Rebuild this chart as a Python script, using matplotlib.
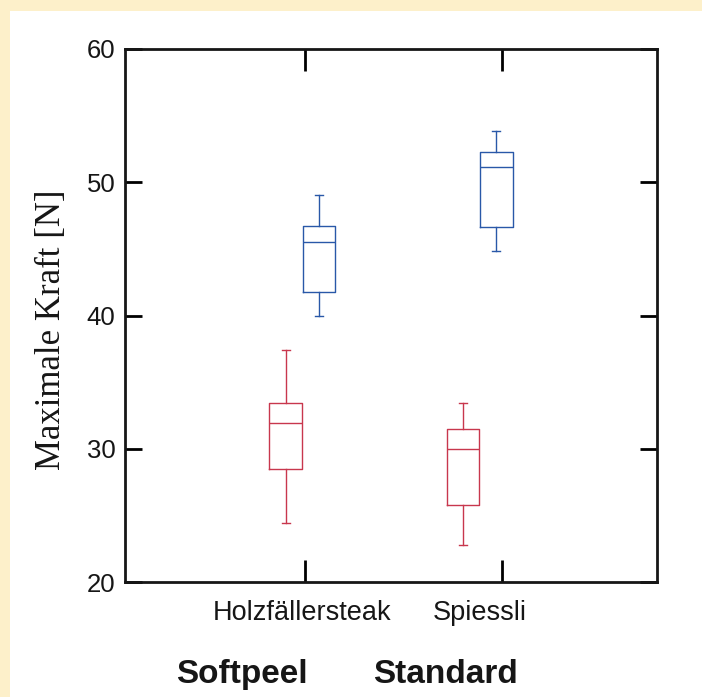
import matplotlib
matplotlib.use("Agg")
import matplotlib.pyplot as plt
from matplotlib.patches import Rectangle

# ---- data ----
categories = ["Holzfällersteak", "Spiessli"]
groups = ["Softpeel", "Standard"]
# five-number summaries: whisker low, Q1, median, Q3, whisker high
softpeel_red = [[24.45, 28.46, 31.93, 33.41, 37.39],
                [22.75, 25.80, 30.00, 31.46, 33.41]]
standard_blue = [[39.96, 41.76, 45.49, 46.74, 49.04],
                 [44.86, 46.66, 51.12, 52.27, 53.87]]
yticks = [20, 30, 40, 50, 60]

red = "#c8374d"
blue = "#2958a8"
ink = "#161616"

fig = plt.figure(figsize=(7.02, 6.97), dpi=100)
fig.patch.set_facecolor("#fdf0ca")
fig.patches.append(Rectangle((10 / 702, 0), 1, 1 - 11 / 697, transform=fig.transFigure,
                             facecolor="white", edgecolor="none", zorder=-5))

ax = fig.add_axes([125 / 702, 1 - 582 / 697, 532 / 702, 533 / 697])
ax.set_facecolor("white")


def stats(vals, label):
    lo, q1, med, q3, hi = vals
    return dict(whislo=lo, q1=q1, med=med, q3=q3, whishi=hi, fliers=[], label=label)


centers = [1, 2]
off = 0.094
width = 0.185
for s, col, d in [(softpeel_red, red, -off), (standard_blue, blue, off)]:
    bxp = [stats(v, c) for v, c in zip(s, categories)]
    props = dict(color=col, linewidth=1.0)
    ax.bxp(bxp, positions=[c + d for c in centers], widths=width, showfliers=False,
           boxprops=props, whiskerprops=props, capprops=props, medianprops=props,
           capwidths=0.045, manage_ticks=False)

ax.set_xlim(0, 3)
ax.set_ylim(20, 60)

# major ticks: labels only (centred on groups); minor ticks: visible marks
ax.set_xticks(centers)
ax.set_xticklabels(categories, fontsize=19.5, family=["Liberation Sans", "DejaVu Sans"],
                   color=ink)
ax.tick_params(axis="x", which="major", length=0, pad=13)
ax.set_xticks([1.015, 2.126], minor=True)
ax.tick_params(axis="x", which="minor", direction="in", length=16, width=2,
               top=True, bottom=True)

ax.set_yticks(yticks)
ax.set_yticklabels([str(t) for t in yticks], fontsize=18.5,
                   family=["Liberation Sans", "DejaVu Sans"], color=ink)
ax.tick_params(axis="y", which="major", direction="in", length=12, width=2,
               left=True, right=True, pad=7)

for sp in ax.spines.values():
    sp.set_linewidth(2)
    sp.set_color(ink)

ax.set_ylabel("Maximale Kraft [N]", fontsize=25,
              family=["Liberation Serif", "DejaVu Serif"], color=ink)
ax.yaxis.set_label_coords(-0.108, 0.473)

for gx, g in zip([242, 445], groups):
    fig.text(gx / 702, 1 - 683 / 697, g, fontsize=24, fontweight="bold",
             family=["Liberation Sans", "DejaVu Sans"],
             ha="center", va="baseline", color=ink)

fig.savefig("out.png", dpi=100, facecolor=fig.get_facecolor())
